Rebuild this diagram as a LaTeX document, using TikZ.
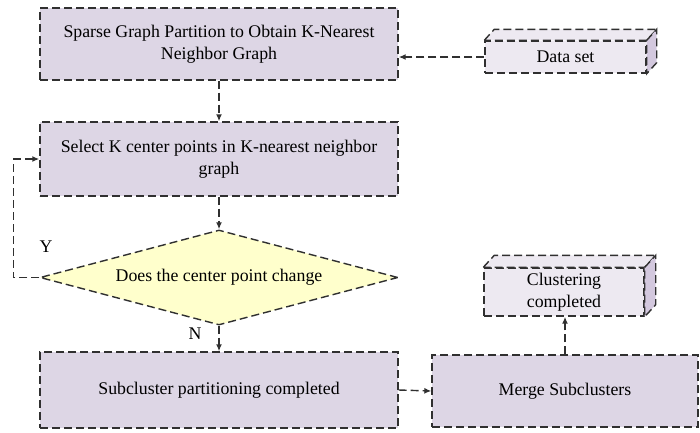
\documentclass[tikz,border=0pt]{standalone}
\usepackage{fontspec}
\setmainfont{Liberation Serif}
\usetikzlibrary{shapes.geometric,arrows.meta,calc}
\definecolor{boxfill}{HTML}{DDD6E5}
\definecolor{frontfill}{HTML}{EDE9F1}
\definecolor{sidefill}{HTML}{D3C8DE}
\definecolor{diafill}{HTML}{FFFFCC}
\definecolor{edge}{HTML}{303030}
\tikzset{
  txt/.style={font=\fontsize{17.8}{22}\selectfont},
  dline/.style={draw=edge, line width=1.4pt, dash pattern=on 8pt off 4pt},
  procbox/.style={dline, txt, fill=boxfill, align=center, inner sep=0pt},
  frontbox/.style={dline, txt, fill=frontfill, align=center, inner sep=0pt},
  decision/.style={dline, txt, fill=diafill, diamond, aspect=3.77, inner sep=0pt,
    minimum width=358pt, minimum height=95pt},
  flow/.style={dline, -{Latex[length=7pt,width=6pt]}},
  lbl/.style={txt, text=black}
}
\begin{document}
\begin{tikzpicture}[x=1pt,y=-1pt]
\useasboundingbox (0,0) rectangle (700,432);

% main process column
\node[procbox, minimum width=358pt, minimum height=72pt] (b1) at (219,44)
  {Sparse Graph Partition to Obtain K-Nearest\\Neighbor Graph};
\node[procbox, minimum width=358pt, minimum height=74pt] (b2) at (219,159)
  {Select K center points in K-nearest neighbor\\graph};
\node[decision] (dia) at (219,277.5) {Does the center point change};
\node[procbox, minimum width=358pt, minimum height=76pt] (b3) at (219,390)
  {Subcluster partitioning completed};
\node[procbox, minimum width=266pt, minimum height=72pt] (mg) at (565,391)
  {Merge Subclusters};

% data set block (3D)
\node[frontbox, minimum width=161pt, minimum height=32pt] (ds) at (565.5,57) {Data set};
\draw[dline, fill=frontfill] (ds.north west) -- ++(10,-11) -- ($(ds.north east)+(10,-11)$) -- (ds.north east) -- cycle;
\draw[dline, fill=sidefill] (ds.north east) -- ++(10,-11) -- ($(ds.south east)+(10,-11)$) -- (ds.south east) -- cycle;

% clustering completed block (3D)
\node[frontbox, minimum width=160pt, minimum height=48pt] (cc) at (564,292)
  {Clustering\\completed};
\draw[dline, fill=frontfill] (cc.north west) -- ++(11,-12) -- ($(cc.north east)+(11,-12)$) -- (cc.north east) -- cycle;
\draw[dline, fill=sidefill] (cc.north east) -- ++(11,-12) -- ($(cc.south east)+(11,-12)$) -- (cc.south east) -- cycle;

% connectors
\draw[flow] (ds.west) -- (ds.west -| b1.east);
\draw[flow] (b1.south) -- (b2.north);
\draw[flow] (b2.south) -- (dia.north);
\draw[flow] (dia.south) -- (b3.north);
\draw[flow] (dia.west) -- ++(-26,0) |- (b2.west);
\draw[flow] (b3.east) -- (mg.west);
\draw[flow] (mg.north) -- (mg.north |- cc.south);

% branch labels
\node[lbl] (ly) at (46,247) {Y};
\node[lbl] (ln) at (195,334) {N};
\end{tikzpicture}
\end{document}
